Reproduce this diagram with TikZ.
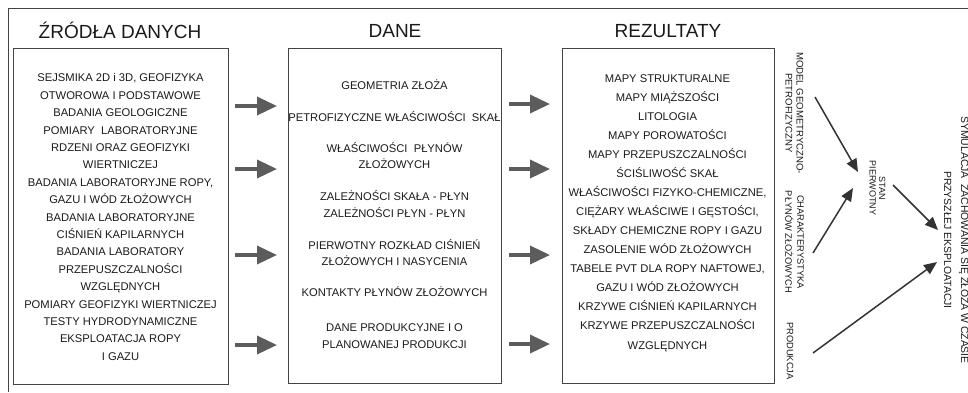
\documentclass[tikz,border=0pt]{standalone}
\usepackage{fontspec}
\setmainfont{Liberation Sans}
\usetikzlibrary{arrows.meta}
\definecolor{txtc}{HTML}{1A1A1A}
\definecolor{boxc}{HTML}{444444}
\definecolor{arrc}{HTML}{5C5C5C}
\definecolor{darc}{HTML}{333333}
\begin{document}
\begin{tikzpicture}[x=1pt,y=-1pt,
  panel/.style={draw=boxc,line width=0.9pt,inner sep=0pt,anchor=north west},
  body/.style={align=center,text=txtc,inner sep=0pt},
  hdr/.style={text=txtc,font=\fontsize{19}{22}\selectfont,inner sep=0pt,anchor=base},
  bigarrow/.style={draw=arrc,line width=3.5pt,-{Triangle[length=20pt,width=18pt]}},
  thinarrow/.style={draw=darc,line width=1.5pt,-{Triangle[length=13pt,width=11pt]}},
  vlabel/.style={rotate=-90,align=center,text=txtc,inner sep=0pt}
]
\useasboundingbox (0,0) rectangle (968,392);
\draw[boxc,line width=0.9pt] (968,8) -- (8,8) -- (8,392);

% headers
\node[hdr] (h1) at (120,38) {ŹRÓDŁA DANYCH};
\node[hdr] (h2) at (395,37) {DANE};
\node[hdr] (h3) at (668,37) {REZULTATY};

% boxes
\node[panel,minimum width=215pt,minimum height=336pt] (src) at (13,48) {};
\node[panel,minimum width=213pt,minimum height=335pt] (dat) at (288,48) {};
\node[panel,minimum width=212pt,minimum height=335pt] (res) at (562,48) {};

% texts
\node[body,font=\fontsize{11.2}{17.4}\selectfont] (srct) at (120.5,217) {%
SEJSMIKA 2D i 3D, GEOFIZYKA\\
OTWOROWA I PODSTAWOWE\\
BADANIA GEOLOGICZNE\\
POMIARY~ LABORATORYJNE\\
RDZENI ORAZ GEOFIZYKI\\
WIERTNICZEJ\\
BADANIA LABORATORYJNE ROPY,\\
GAZU I WÓD ZŁOŻOWYCH\\
BADANIA LABORATORYJNE\\
CIŚNIEŃ KAPILARNYCH\\
BADANIA LABORATORY\\
PRZEPUSZCZALNOŚCI\\
WZGLĘDNYCH\\
POMIARY GEOFIZYKI WIERTNICZEJ\\
TESTY HYDRODYNAMICZNE\\
EKSPLOATACJA ROPY\\
I GAZU};

\node[body,font=\fontsize{11.2}{16.5}\selectfont] (datt) at (394.5,214) {%
GEOMETRIA ZŁOŻA\\[15.5pt]
PETROFIZYCZNE WŁAŚCIWOŚCI~ SKAŁ\\[14.5pt]
WŁAŚCIWOŚCI~ PŁYNÓW\\
ZŁOŻOWYCH\\[15.5pt]
ZALEŻNOŚCI SKAŁA - PŁYN\\
ZALEŻNOŚCI PŁYN - PŁYN\\[15.5pt]
PIERWOTNY ROZKŁAD CIŚNIEŃ\\
ZŁOŻOWYCH I NASYCENIA\\[14.5pt]
KONTAKTY PŁYNÓW ZŁOŻOWYCH\\[18.5pt]
DANE PRODUKCYJNE I O\\
PLANOWANEJ PRODUKCJI};

\node[body,font=\fontsize{11.2}{19.07}\selectfont] (rest) at (667.5,212.8) {%
MAPY STRUKTURALNE\\
MAPY MIĄŻSZOŚCI\\
LITOLOGIA\\
MAPY POROWATOŚCI\\
MAPY PRZEPUSZCZALNOŚCI\\
ŚCIŚLIWOŚĆ SKAŁ\\
WŁAŚCIWOŚCI FIZYKO-CHEMICZNE,\\
CIĘŻARY WŁAŚCIWE I GĘSTOŚCI,\\
SKŁADY CHEMICZNE ROPY I GAZU\\
ZASOLENIE WÓD ZŁOŻOWYCH\\
TABELE PVT DLA ROPY NAFTOWEJ,\\
GAZU I WÓD ZŁOŻOWYCH\\
KRZYWE CIŚNIEŃ KAPILARNYCH\\
KRZYWE PRZEPUSZCZALNOŚCI\\
WZGLĘDNYCH};

% big arrows
\foreach \i/\ya/\yb in {1/106/104,2/169/169,3/255/255,4/345/344}{
  \coordinate (la\i) at (235,\ya);
  \coordinate (lb\i) at (277,\ya);
  \coordinate (ra\i) at (509,\yb);
  \coordinate (rb\i) at (550,\yb);
  \draw[bigarrow] (la\i) -- (lb\i);
  \draw[bigarrow] (ra\i) -- (rb\i);
}

% right part labels
\node[vlabel,font=\fontsize{9.6}{11}\selectfont] (mod) at (794.5,113) {MODEL GEOMETRYCZNO-\\PETROFIZYCZNY};
\node[vlabel,font=\fontsize{9.3}{12}\selectfont] (cha) at (794.5,242) {CHARAKTERYSTYKA\\PŁYNÓW ZŁOŻOWYCH};
\node[vlabel,font=\fontsize{9.3}{11}\selectfont] (pro) at (790,351) {PRODUKCJA};
\node[vlabel,font=\fontsize{9}{9.5}\selectfont] (stan) at (877.5,188) {STAN\\PIERWOTNY};
\node[vlabel,font=\fontsize{10.4}{17}\selectfont] (sym) at (957,240) {SYMULACJA~ ZACHOWANIA SIĘ ZŁOŻA W CZASIE\\PRZYSZŁEJ EKSPLOATACJI};

% thin arrows
\coordinate (m1) at (815,97);   \coordinate (m2) at (858,172);
\coordinate (c1) at (813,253);  \coordinate (c2) at (853,188);
\coordinate (s1) at (893,185);  \coordinate (s2) at (938,230);
\coordinate (p1) at (813,353);  \coordinate (p2) at (937,262);
\draw[thinarrow] (m1) -- (m2);
\draw[thinarrow] (c1) -- (c2);
\draw[thinarrow] (s1) -- (s2);
\draw[thinarrow] (p1) -- (p2);
\end{tikzpicture}
\end{document}
